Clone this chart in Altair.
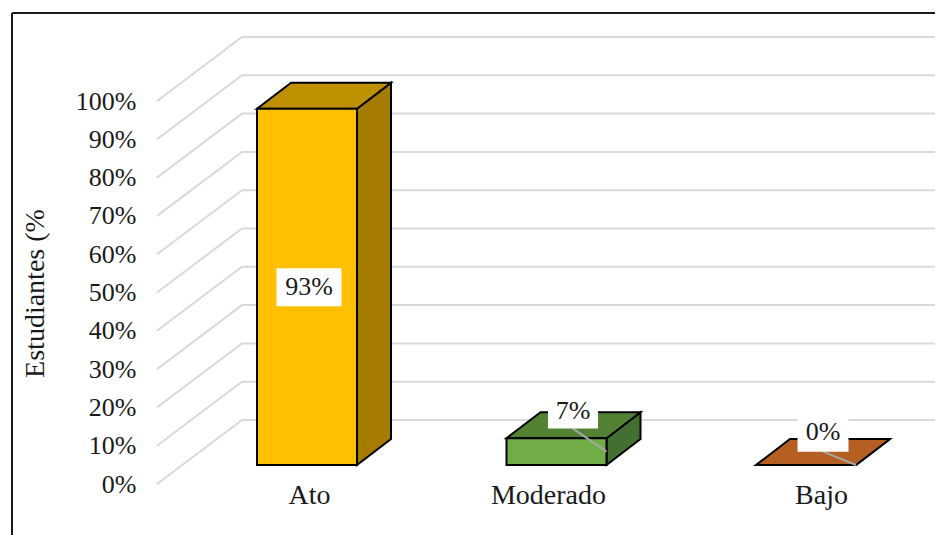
import altair as alt
import pandas as pd

# Chart values
categories = ["Ato", "Moderado", "Bajo"]
values = [93, 7, 0]
value_labels = ["93%", "7%", "0%"]
ticks = list(range(0, 101, 10))
front_colors = ["#FFC000", "#70AD47", "#C0651F"]
top_colors = ["#BF9000", "#548235", "#B55F22"]
side_colors = ["#A67C00", "#437030", "#B55F22"]

# Layout in chart units (x: pixels from the frame, y: percent on the front plane)
PX = 3.83
bar_left = [245, 494.5, 744]
bar_w = 100
lift = 19 / PX
dep_x, dep_y = 34, 26 / PX
wall_x0, wall_x1, wall_end = 145, 230, 923
wall_dy = 64 / PX
cat_pos = [297, 536, 809]
label_x = [297, 561, 811]
label_y = [51.4, 19.1, 13.6]
label_w = [65, 50, 51]
label_h = [38 / PX, 27 / PX, 31 / PX]
leader_on_face = [False, True, True]
X_DOM = [0, 923]
Y_DOM = [(484 - 535) / PX, (484 - 13) / PX]

xs = alt.Scale(domain=X_DOM, nice=False, zero=False)
ys = alt.Scale(domain=Y_DOM, nice=False, zero=False)

grid_rows = []
for t in ticks:
    grid_rows += [
        {"tick": t, "o": 0, "x": wall_x0, "y": t},
        {"tick": t, "o": 1, "x": wall_x1, "y": t + wall_dy},
        {"tick": t, "o": 2, "x": wall_end, "y": t + wall_dy},
    ]
grid_df = pd.DataFrame(grid_rows)

front_rows, side_rows, top_rows, lead_rows, box_rows = [], [], [], [], []
for i, c in enumerate(categories):
    l, r, v = bar_left[i], bar_left[i] + bar_w, values[i]
    b, t = lift, lift + v
    front_rows.append({"cat": c, "x": l, "x2": r, "y": b, "y2": t, "col": front_colors[i]})
    side_rows += [
        {"cat": c, "x": r, "y": t, "y2": b, "col": side_colors[i]},
        {"cat": c, "x": r + dep_x, "y": t + dep_y, "y2": b + dep_y, "col": side_colors[i]},
    ]
    top_rows += [
        {"cat": c, "y": t, "x": l, "x2": r, "col": top_colors[i]},
        {"cat": c, "y": t + dep_y, "x": l + dep_x, "x2": r + dep_x, "col": top_colors[i]},
    ]
    box_rows.append({
        "x": label_x[i] - label_w[i] / 2, "x2": label_x[i] + label_w[i] / 2,
        "y": label_y[i] - label_h[i] / 2 - 1.1 * (i > 0), "y2": label_y[i] + label_h[i] / 2 + 0.6 * (i > 0),
        "tx": label_x[i], "ty": label_y[i], "text": value_labels[i],
    })
    if leader_on_face[i]:
        lead_rows.append({
            "cat": c, "x": r, "y": b + v / 2, "x2": label_x[i],
            "y2": label_y[i] - label_h[i] / 2 - 1.1,
        })

front_df = pd.DataFrame(front_rows)
side_df = pd.DataFrame(side_rows)
top_df = pd.DataFrame(top_rows)
lead_df = pd.DataFrame(lead_rows)
box_df = pd.DataFrame(box_rows)

FONT = "Liberation Serif"
y_axis = alt.Axis(
    values=ticks, labelExpr="datum.value + '%'", domain=False, ticks=False, grid=False,
    offset=-124, labelPadding=0, labelFontSize=26, labelColor="#1a1a1a", labelFont=FONT,
    title="Estudiantes (%", titleFont=FONT, titleFontSize=28, titleFontWeight="normal",
    titleColor="#1a1a1a", titleX=-87, titleY=280, titleAngle=270, labelOverlap=False,
)
x_axis = alt.Axis(
    values=cat_pos,
    labelExpr="[" + ",".join(f"'{c}'" for c in categories) + "][indexof([" + ",".join(map(str, cat_pos)) + "], datum.value)]",
    domain=False, ticks=False, grid=False, offset=-54, labelPadding=0, labelFontSize=28,
    labelColor="#1a1a1a", labelFont=FONT, title=None, labelAngle=0, labelOverlap=False,
)

X = lambda f: alt.X(f, scale=xs, axis=x_axis)
Y = lambda f: alt.Y(f, scale=ys, axis=y_axis)

grid = alt.Chart(grid_df).mark_line(color="#D9D9D9", strokeWidth=2).encode(
    x=X("x:Q"), y=Y("y:Q"), detail="tick:N", order="o:Q",
)
left_line = alt.Chart(pd.DataFrame({"a": [0]})).mark_rule(color="#1a1a1a", strokeWidth=2).encode(
    x=alt.datum(0, scale=xs, axis=x_axis)
)
top_line = alt.Chart(pd.DataFrame({"a": [0]})).mark_rule(color="#1a1a1a", strokeWidth=2).encode(
    y=alt.datum(Y_DOM[1], scale=ys, axis=y_axis)
)
side = alt.Chart(side_df).mark_area(stroke="black", strokeWidth=2).encode(
    x=X("x:Q"), y=Y("y:Q"), y2="y2:Q",
    fill=alt.Fill("col:N", scale=None), detail="cat:N",
)
top = alt.Chart(top_df).mark_area(orient="horizontal", stroke="black", strokeWidth=2).encode(
    y=Y("y:Q"), x=X("x:Q"), x2="x2:Q",
    fill=alt.Fill("col:N", scale=None), detail="cat:N",
)
front = alt.Chart(front_df).mark_rect(stroke="black", strokeWidth=2).encode(
    x=X("x:Q"), x2="x2:Q", y=Y("y:Q"), y2="y2:Q",
    fill=alt.Fill("col:N", scale=None),
)
leader = alt.Chart(lead_df).mark_rule(color="#A6A6A6", strokeWidth=2).encode(
    x=X("x:Q"), x2="x2:Q", y=Y("y:Q"), y2="y2:Q",
)
box = alt.Chart(box_df).mark_rect(fill="white").encode(
    x=X("x:Q"), x2="x2:Q", y=Y("y:Q"), y2="y2:Q",
)
text = alt.Chart(box_df).mark_text(font=FONT, fontSize=26, color="#1a1a1a", baseline="middle", align="center").encode(
    x=X("tx:Q"), y=Y("ty:Q"), text="text:N",
)

chart = alt.layer(grid, left_line, top_line, side, top, front, leader, box, text).properties(
    width=923, height=522,
    padding={"left": 4, "top": 5, "right": 0, "bottom": 0},
    autosize=alt.AutoSizeParams(type="none"),
).configure_view(stroke=None)

chart.save("out.html", embed_options={"renderer": "svg", "actions": False})
